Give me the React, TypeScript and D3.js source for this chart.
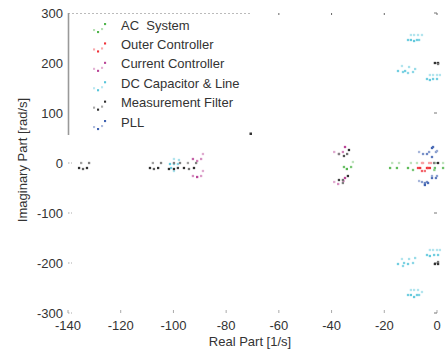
import { useEffect, useRef } from 'react'
import * as d3 from 'd3'

// eigenvalues: [real, imag, shade]  (shade 0 = light, 1 = full colour)
const acSystem = [
  [-31.9, 2, 0.2], [-35.3, -8, 0.8], [-32.6, -8, 0.7], [-34.2, -12, 1],
  [-17, 0, 0.2], [-14.4, 0, 0.2], [-9.9, 0, 0.2], [-7.6, 0, 0.2], [-0.8, 0, 0.3], [2.3, 0, 0.2],
  [-17.8, -10, 0.9], [-15.2, -10, 0.9], [-11, -10, 0.9], [-9.1, -14, 0.7], [-0.8, -10, 0.8],
  [2.3, -10, 0.8], [-1, -14, 0.6]
]
const outerController = [
  [-5.7, 0, 0.3], [-5.3, 0, 0.3], [-3, 0, 0.3], [-2.3, 0, 0.3],
  [-7.2, -10, 0.9], [-6.4, -10, 1], [-3.8, -10, 1], [-3.4, -10, 0.9], [-2.7, -10, 1],
  [-5.7, -16, 0.7], [-4.6, -16, 0.6]
]
const currentController = [
  [-88.8, 18, 0.3], [-91, 4, 0.6], [-92.6, 8, 0.8], [-89.5, 8, 0.5],
  [-88.8, -16, 0.3], [-92.6, -26, 0.5], [-91, -28, 1], [-89.5, -26, 0.4],
  [-34.9, 32, 1], [-35.7, 22, 0.6], [-39, 22, 0.3], [-37.2, 18, 0.6],
  [-34.9, -30, 1], [-39, -38, 0.3], [-37.5, -42, 0.5], [-35.5, -36, 0.6]
]
const dcCapacitor = [
  [-101.3, -2, 0.9], [-99.8, -2, 0.7], [-98.3, -2, 0.6], [-97.9, 6, 0.4], [-99.8, 8, 0.3],
  [-99.8, -16, 0.4], [-100.9, -10, 0.8],
  [-9.9, 256, 0.3], [-8.7, 256, 0.3], [-7.2, 256, 0.3], [-5.7, 256, 0.3],
  [-11, 246, 0.8], [-9.9, 246, 0.9], [-8.7, 244, 0.9], [-7.6, 246, 0.8], [-6.8, 246, 0.7],
  [-13.3, 194, 0.3], [-14.8, 184, 0.8], [-12.9, 182, 0.7], [-12.1, 184, 0.8], [-11, 180, 0.6],
  [-10.6, 192, 0.4], [-9.1, 182, 0.6], [-8.3, 188, 0.5],
  [-2.7, 176, 0.3], [-1.5, 176, 0.3], [0, 176, 0.3], [1.1, 176, 0.3],
  [-3.8, 168, 0.8], [-2.7, 166, 0.9], [-1.5, 168, 0.8], [0, 168, 0.8],
  [-2.7, -174, 0.3], [-1.5, -174, 0.3], [0, -174, 0.3], [1.1, -174, 0.3],
  [-3.8, -184, 0.8], [-2.7, -186, 0.9], [-1.1, -184, 0.8], [0.4, -184, 0.8],
  [-13.3, -192, 0.3], [-14.8, -202, 0.8], [-12.5, -200, 0.7], [-11, -202, 0.8], [-12.9, -206, 0.6],
  [-10.6, -192, 0.4], [-9.1, -200, 0.6], [-8.3, -190, 0.5],
  [-9.9, -254, 0.3], [-8.7, -254, 0.3], [-7.2, -254, 0.3], [-5.7, -258, 0.3],
  [-11, -264, 0.8], [-9.9, -264, 0.9], [-8.7, -268, 0.9], [-7.6, -264, 0.8], [-6.8, -264, 0.7]
]
const measurementFilter = [
  [-135, 0, 0.3], [-132, 0, 0.5], [-135.8, -10, 1], [-134.3, -12, 0.7], [-132.8, -10, 1],
  [-108.9, -10, 1], [-107.4, -12, 0.7], [-105.8, -10, 1], [-107.8, 0, 0.3], [-104.7, 0, 0.5],
  [-101.7, -12, 1], [-99.8, 0, 0.5], [-99.8, -12, 1], [-97.5, 0, 0.5], [-98.3, -10, 0.9],
  [-96, -10, 1], [-94.5, 0, 0.3], [-94.1, -12, 0.6], [-92.2, -10, 1], [-91.4, 0, 0.5],
  [-33.4, 26, 1], [-34.1, 18, 0.6], [-35.3, 14, 0.8], [-37.2, 18, 0.5],
  [-33.8, -26, 1], [-35.7, -34, 0.6], [-37.2, -34, 0.9], [-35.7, -40, 0.5],
  [-1.1, 0, 0.5], [0.4, 0, 1],
  [-0.8, 200, 1], [0.4, 200, 1], [0.4, 198, 0.6],
  [-0.8, -202, 1], [0.4, -202, 1], [0.4, -198, 0.6]
]
const pll = [
  [-6.8, 22, 0.3], [-5.3, 18, 0.6], [-3.8, 18, 0.7], [-3, 22, 0.5], [-1.9, 30, 1],
  [-1.5, 32, 0.9], [-1.9, 12, 0.8], [-0.4, 22, 0.5], [0, 24, 0.4],
  [-6.8, -36, 0.3], [-5.7, -38, 0.5], [-4.6, -40, 0.7], [-3.8, -38, 0.6], [-3.4, -40, 0.9],
  [-4.6, -44, 1], [-1.9, -30, 0.9], [-0.4, -30, 0.8], [0, -26, 0.5], [-1.9, -26, 0.4]
]

const groups = [
  { name: 'AC  System', color: '#3fae3a', data: acSystem },
  { name: 'Outer Controller', color: '#ee1c25', data: outerController },
  { name: 'Current Controller', color: '#b3338c', data: currentController },
  { name: 'DC Capacitor & Line', color: '#45bfd6', data: dcCapacitor },
  { name: 'Measurement Filter', color: '#1a1a1a', data: measurementFilter },
  { name: 'PLL', color: '#2a50a8', data: pll }
]

const xTicks = [-140, -120, -100, -80, -60, -40, -20, 0]
const yTicks = [-300, -200, -100, 0, 100, 200, 300]

export default function App() {
  const svgRef = useRef<SVGSVGElement>(null)

  useEffect(() => {
    if (!svgRef.current) return
    const svg = d3.select(svgRef.current)
    svg.selectAll('*').remove()

    const x = d3.scaleLinear().domain([-140, 0]).range([68, 437])
    const y = d3.scaleLinear().domain([-300, 300]).range([313, 13])
    const font = '"Liberation Sans", Arial, sans-serif'
    const fs = '13px'
    const shade = (c: string, k: number) => d3.interpolateRgb('#ffffff', c)(0.2 + 0.7 * k)

    // tick marks (inward)
    const tickCol = '#aaaaaa'
    xTicks.forEach(t => {
      svg.append('line').attr('x1', x(t)).attr('x2', x(t)).attr('y1', y(-300)).attr('y2', y(-300) - 3)
        .attr('stroke', tickCol)
      if (t > -80) {
        svg.append('line').attr('x1', x(t)).attr('x2', x(t)).attr('y1', y(300)).attr('y2', y(300) + 2)
          .attr('stroke', '#666')
      }
    })
    yTicks.forEach(t => {
      if (t <= 0) {
        svg.append('line').attr('x1', x(-140)).attr('x2', x(-140) + 4).attr('y1', y(t)).attr('y2', y(t))
          .attr('stroke', tickCol).attr('stroke-dasharray', '1.5,1.5')
      }
      svg.append('line').attr('x1', x(0)).attr('x2', x(0) - 3).attr('y1', y(t)).attr('y2', y(t))
        .attr('stroke', '#777')
    })

    // eigenvalue markers
    const s = 2.3
    groups.forEach(g => {
      svg.append('g').selectAll('rect').data(g.data).join('rect')
        .attr('x', d => x(d[0]) - s / 2)
        .attr('y', d => y(d[1]) - s / 2)
        .attr('width', s).attr('height', s)
        .attr('fill', d => shade(g.color, d[2]))
    })

    // legend box
    const lg = svg.append('g')
    lg.append('rect').attr('x', 68).attr('y', 13).attr('width', 183).attr('height', 121).attr('fill', '#fff')
    lg.append('line').attr('x1', 68).attr('x2', 251).attr('y1', 13.5).attr('y2', 13.5)
      .attr('stroke', '#bbb').attr('stroke-dasharray', '2,2')
    lg.append('line').attr('x1', 68.5).attr('x2', 68.5).attr('y1', 13).attr('y2', 135)
      .attr('stroke', '#999').attr('stroke-width', 1.6)
    lg.append('rect').attr('x', 249.5).attr('y', 132.5).attr('width', 2.5).attr('height', 2.5).attr('fill', '#333')

    const rowY = d3.scaleLinear().domain([0, 5]).range([25, 122])
    const swatch = [[-28, 5, 0.25], [-24, 7, 1], [-20, 4, 0.25], [-17, -1, 1]]
    groups.forEach((g, i) => {
      const cy = rowY(i)
      swatch.forEach(p => {
        lg.append('rect').attr('x', 121 + p[0]).attr('y', cy + p[1] - 1).attr('width', 2.1).attr('height', 2.1)
          .attr('fill', shade(g.color, p[2]))
      })
      lg.append('text').attr('x', 121).attr('y', cy).attr('dy', '0.35em')
        .style('font-family', font).style('font-size', fs).style('fill', '#333')
        .style('white-space', 'pre')
        .text(g.name)
    })

    // tick labels
    xTicks.forEach(t => {
      svg.append('text').attr('x', x(t)).attr('y', 325).attr('dy', '0.35em').attr('text-anchor', 'middle')
        .style('font-family', font).style('font-size', fs).style('fill', '#333').text(t)
    })
    yTicks.forEach(t => {
      svg.append('text').attr('x', 63).attr('y', y(t)).attr('dy', '0.35em').attr('text-anchor', 'end')
        .style('font-family', font).style('font-size', fs).style('fill', '#333').text(t)
    })

    // axis titles
    svg.append('text').attr('x', 250).attr('y', 341).attr('dy', '0.35em').attr('text-anchor', 'middle')
      .style('font-family', font).style('font-size', fs).style('fill', '#333').text('Real Part [1/s]')
    svg.append('text').attr('transform', 'translate(22,160) rotate(-90)').attr('dy', '0.35em')
      .attr('text-anchor', 'middle')
      .style('font-family', font).style('font-size', fs).style('fill', '#333').text('Imaginary Part [rad/s]')
  }, [])

  return (
    <svg ref={svgRef} width={445} height={350}
      style={{ position: 'absolute', left: 0, top: 0, display: 'block', background: '#fff' }} />
  )
}
